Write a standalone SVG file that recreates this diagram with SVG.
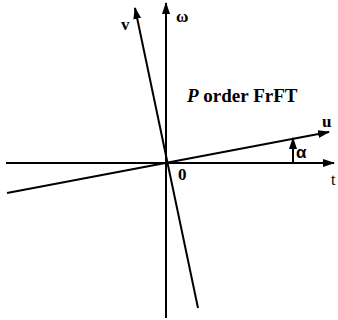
<svg xmlns="http://www.w3.org/2000/svg" width="338" height="320" viewBox="0 0 338 320">
<defs>
<marker id="ah" markerWidth="12" markerHeight="8" refX="11" refY="4" orient="auto" markerUnits="userSpaceOnUse">
<path d="M0,0 L12,4 L0,8 Z" fill="#000"/>
</marker>
<style>
.ax{stroke:#000;stroke-width:2;fill:none}
.b{font-family:"Liberation Serif",serif;font-weight:bold;font-size:17px;fill:#000}
.t{font-size:19px}
</style>
</defs>
<rect width="338" height="320" fill="#fff"/>
<g id="connectors">
<line class="ax" x1="6" y1="163" x2="334" y2="163" marker-end="url(#ah)"/>
<line class="ax" x1="166" y1="318" x2="166" y2="3" marker-end="url(#ah)"/>
<line class="ax" x1="7" y1="193" x2="329" y2="132" marker-end="url(#ah)"/>
<line class="ax" x1="198" y1="308" x2="135" y2="8" marker-end="url(#ah)"/>
<line class="ax" x1="293" y1="163" x2="293" y2="138" marker-end="url(#ah)"/>
</g>
<g id="labels">
<text class="b" x="121" y="30">v</text>
<text class="b" x="176" y="22">ω</text>
<text class="b t" x="187" y="102"><tspan font-style="italic">P</tspan> order FrFT</text>
<text class="b" x="322" y="127">u</text>
<text x="296" y="158" font-family="Liberation Sans,sans-serif" font-size="17" font-weight="bold" fill="#000">α</text>
<text class="b" x="178" y="180">0</text>
<text x="331" y="185" font-family="Liberation Serif,serif" font-size="16" fill="#000">t</text>
</g>
</svg>
